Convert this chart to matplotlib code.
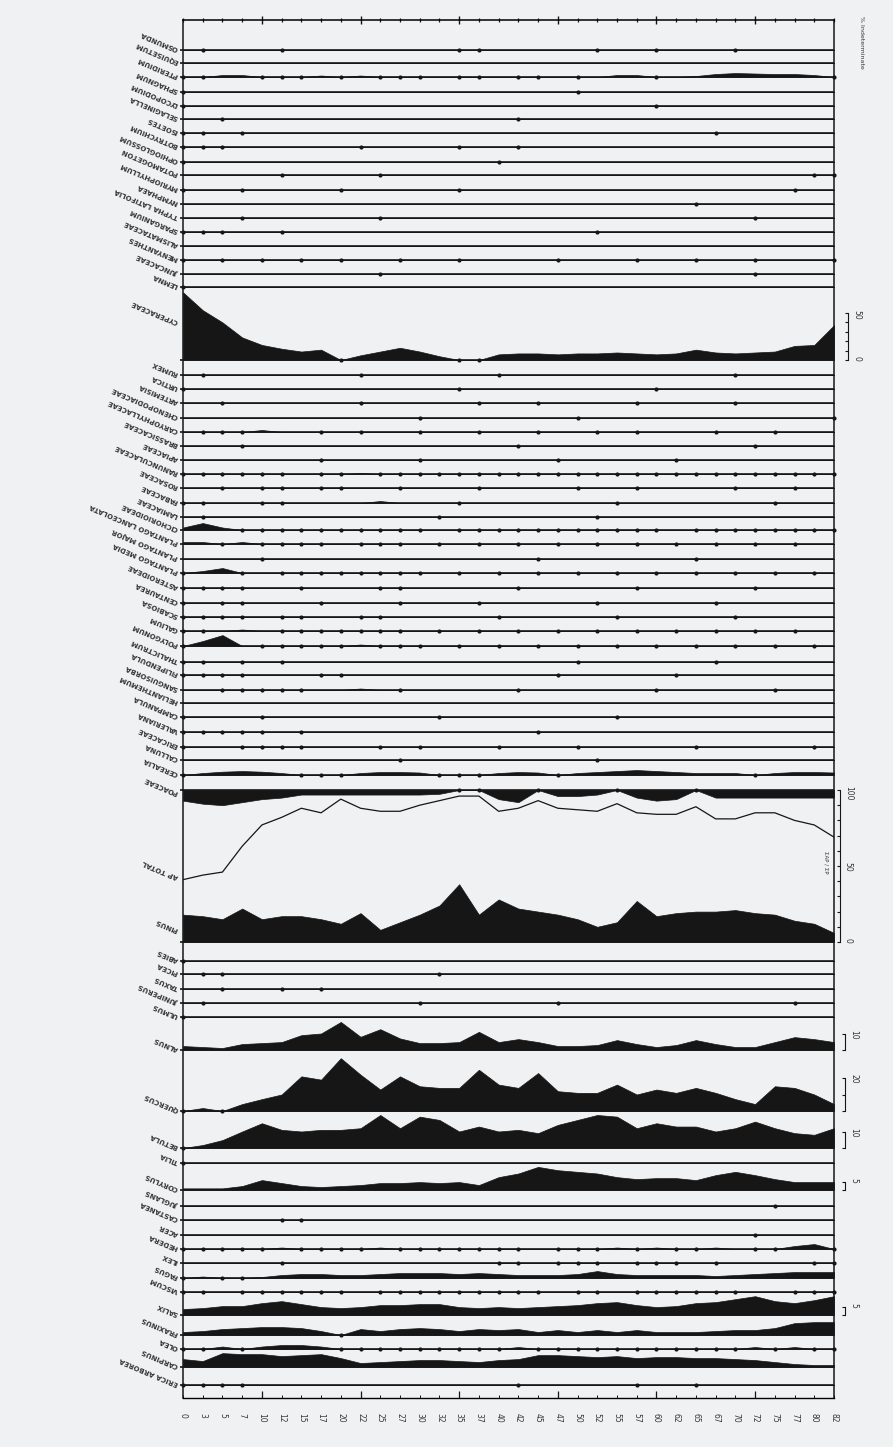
import numpy as np
import matplotlib
matplotlib.use('Agg')
import matplotlib.pyplot as plt

# ========== data ==========
depth_labels = ['0', '3', '5', '7', '10', '12', '15', '17', '20', '22', '25', '27', '30', '32',
                '35', '37', '40', '42', '45', '47', '50', '52', '55', '57', '60', '62', '65', '67',
                '70', '72', '75', '77', '80', '82']

# upper block: spores and aquatics (presence dots, a few small curves)
top_taxa = ['OSMUNDA', 'EQUISETUM', 'PTERIDIUM', 'SPHAGNUM', 'LYCOPODIUM', 'SELAGINELLA',
            'ISOETES', 'BOTRYCHIUM', 'OPHIOGLOSSUM', 'POTAMOGETON', 'MYRIOPHYLLUM', 'NYMPHAEA',
            'TYPHA LATIFOLIA', 'SPARGANIUM', 'ALISMATACEAE', 'MENYANTHES', 'JUNCACEAE', 'LEMNA']
top_dots = [[1, 5, 14, 15, 21, 24, 28], [],
            [0, 1, 4, 5, 6, 8, 10, 11, 12, 14, 15, 17, 18, 20, 24, 33],
            [0, 20], [0, 24], [2, 17], [0, 1, 3, 27], [0, 1, 2, 9, 14, 17], [0, 16],
            [5, 10, 32, 33], [0, 3, 8, 14, 31], [26], [3, 10, 29], [0, 1, 2, 5, 21], [],
            [0, 2, 4, 6, 8, 11, 14, 19, 23, 26, 29, 33], [10, 29], [0]]
top_bumps = [[], [],
             [(2, 1.2), (3, 1.2), (7, 0.9), (9, 0.9), (22, 1.2), (23, 1.2), (26, 0.6), (27, 1.8),
              (28, 2.4), (29, 2.1), (30, 1.8), (31, 1.8), (32, 1.2)],
             [], [], [], [], [], [], [], [], [], [], [], [], [], [], []]

cyperaceae = [72, 53, 40, 24, 16, 12, 9, 11, 0, 5, 9, 13, 9, 4, 0, 0, 6, 7, 7, 6, 7, 7, 8, 7, 6, 7,
              11, 8, 7, 8, 9, 15, 16, 37]

# middle block: herbs
mid_taxa = ['RUMEX', 'URTICA', 'ARTEMISIA', 'CHENOPODIACEAE', 'CARYOPHYLLACEAE', 'BRASSICACEAE',
            'APIACEAE', 'RANUNCULACEAE', 'ROSACEAE', 'FABACEAE', 'LAMIACEAE', 'CICHORIOIDEAE',
            'PLANTAGO LANCEOLATA', 'PLANTAGO MAJOR', 'PLANTAGO MEDIA', 'ASTEROIDEAE', 'CENTAUREA',
            'SCABIOSA', 'GALIUM', 'POLYGONUM', 'THALICTRUM', 'FILIPENDULA', 'SANGUISORBA',
            'HELIANTHEMUM', 'CAMPANULA', 'VALERIANA', 'ERICACEAE', 'CALLUNA', 'CEREALIA']
mid_dots = [[1, 9, 16, 28], [0, 14, 24], [2, 9, 15, 18, 23, 28], [12, 20, 33],
            [1, 2, 3, 7, 9, 12, 15, 18, 21, 23, 27, 30], [3, 17, 29], [7, 12, 19, 25],
            [0, 1, 2, 3, 4, 5, 7, 8, 10, 11, 12, 13, 14, 15, 16, 17, 18, 19, 20, 21, 22, 23, 24,
             25, 26, 27, 28, 29, 30, 31, 32, 33],
            [2, 4, 5, 7, 8, 11, 15, 20, 23, 28, 31], [0, 1, 4, 5, 14, 22, 30], [1, 13, 21],
            [3, 4, 5, 6, 7, 8, 9, 10, 11, 12, 14, 15, 16, 17, 18, 19, 20, 21, 22, 23, 24, 26, 27,
             28, 29, 30, 31, 32, 33],
            [2, 4, 5, 6, 7, 9, 10, 11, 13, 15, 17, 19, 21, 23, 25, 27, 29, 31], [4, 18, 26],
            [0, 3, 5, 6, 7, 8, 9, 10, 11, 12, 14, 16, 18, 20, 22, 24, 26, 28, 30, 32],
            [0, 1, 2, 3, 6, 10, 11, 17, 23, 29], [0, 2, 3, 7, 11, 15, 21, 27],
            [0, 1, 2, 3, 5, 6, 9, 10, 16, 22, 28],
            [0, 1, 5, 6, 7, 8, 9, 10, 11, 13, 15, 17, 19, 21, 23, 25, 27, 29, 31],
            [0, 4, 5, 6, 7, 8, 10, 11, 12, 14, 16, 18, 20, 22, 24, 26, 28, 30, 32],
            [0, 1, 3, 5, 20, 27], [0, 1, 2, 3, 7, 8, 19, 25], [2, 3, 4, 5, 6, 11, 17, 24, 30], [],
            [0, 4, 13, 22], [0, 1, 2, 3, 4, 6, 18], [0, 3, 4, 5, 6, 10, 12, 16, 20, 26, 32],
            [11, 21], [0, 6, 7, 8, 13, 14, 15, 19, 29]]
mid_bumps = [[], [], [], [], [(4, 1.2)], [], [], [(9, 0.6)], [], [(10, 1.2)], [],
             [(0, 1.5), (1, 4.2), (2, 1.5)], [(0, 1.2), (1, 1.2), (3, 1.2)], [],
             [(1, 1.2), (2, 3.0)], [], [], [], [(3, 0.9)], [(1, 3.0), (2, 6.6), (9, 0.9)],
             [], [], [(9, 0.9)], [], [], [], [], [],
             [(1, 1.2), (2, 2.0), (3, 2.4), (4, 2.0), (5, 1.2), (9, 1.2), (10, 1.8), (11, 1.8),
              (12, 1.5), (16, 1.2), (17, 1.8), (18, 1.5), (20, 1.2), (21, 1.8), (22, 2.4),
              (23, 3.0), (24, 2.4), (25, 1.8), (26, 1.2), (27, 1.2), (28, 1.2), (30, 1.2),
              (31, 1.8), (32, 1.8), (33, 1.5)]]

# sum panel (0-100 %)
poaceae = [7, 9, 10, 8, 6, 5, 3, 3, 3, 3, 3, 3, 3, 2.5, 0, 0, 6, 8, 0, 4, 4, 3, 0, 5, 7, 6, 0, 5,
           5, 5, 5, 5, 5, 5]
ap_total = [41, 44, 46, 63, 77, 82, 88, 85, 94, 88, 86, 86, 90, 93, 96, 96, 86, 88, 93, 88, 87, 86,
            91, 85, 84, 84, 89, 81, 81, 85, 85, 80, 77, 69]
pinus = [18, 17, 15, 22, 15, 17, 17, 15, 12, 19, 8, 13, 18, 24, 38, 18, 28, 22, 20, 18, 15, 10, 13,
         27, 17, 19, 20, 20, 21, 19, 18, 14, 12, 6]

# lower block: trees and shrubs
alnus = [2.4, 1.8, 1.2, 3.6, 4.2, 4.8, 9, 10, 17, 8, 12.6, 7, 4.2, 4.2, 4.8, 11, 4.8, 6.6, 4.8, 2.4,
         2.4, 3, 6, 3.6, 1.8, 3, 6, 3.6, 1.8, 1.8, 4.8, 7.8, 6.6, 4.8]
quercus = [0, 1.8, 0, 4.2, 7.2, 10, 21, 19, 32, 22, 13, 21, 15, 14, 14, 25, 16, 14, 23, 12, 11, 11,
           16, 10, 13, 11, 14, 11, 7.2, 4.2, 15, 14, 10, 4.2]
betula = [0, 1.8, 4.8, 10, 15, 11, 10, 11, 11, 12, 20, 12, 19, 17, 10, 13, 10, 11, 9, 14, 17, 20, 19,
          12, 15, 13, 13, 10, 12, 16, 12, 9, 8, 12]
corylus = [1, 1, 1, 2.4, 6, 4.2, 2.4, 1.8, 2.4, 3, 4.2, 4.2, 4.8, 4.2, 4.8, 3, 7.8, 10, 14, 12, 11,
           10, 7.8, 6.6, 7.2, 7.2, 6, 9, 11, 9, 6.6, 4.8, 4.8, 4.8]
fagus = [0, 0.9, 0, 0, 0.6, 1.8, 2.4, 2.4, 1.8, 1.8, 2.4, 3, 3, 3, 2.4, 3, 2.4, 1.8, 1.8, 1.8, 2.4,
         4.2, 2.4, 1.8, 1.8, 1.8, 1.8, 1.2, 1.8, 2.4, 3, 3.6, 3.6, 3.6]
salix = [3.6, 4.2, 5.4, 5.4, 7.2, 8.4, 6.6, 4.8, 4.2, 4.8, 6, 6, 6.6, 6.6, 4.8, 4.2, 4.8, 4.2, 4.8,
         5.4, 6, 7.2, 7.8, 6, 4.8, 5.4, 7.2, 7.8, 9.6, 11.4, 8.4, 7.2, 9, 11.4]
fraxinus = [1.8, 2.4, 3.6, 4.2, 4.8, 4.8, 4.2, 2.4, 0, 3.6, 2.4, 3.6, 4.2, 3.6, 2.4, 3.6, 3, 3.6, 1.8,
            3, 1.8, 3, 1.8, 3, 1.8, 1.8, 1.8, 2.4, 3, 3, 4.2, 7.2, 7.8, 7.8]
carpinus = [4.8, 3.6, 8.4, 7.8, 7.8, 6.6, 7.2, 7.8, 5.4, 2.4, 3, 3.6, 4.2, 4.2, 3.6, 3, 4.2, 4.8, 7.2,
            7.2, 6.6, 6, 6.6, 5.4, 6, 6, 5.4, 5.4, 4.8, 4.2, 3, 1.8, 1.2, 1.2]

low_taxa = ['ABIES', 'PICEA', 'TAXUS', 'JUNIPERUS', 'ULMUS', 'ALNUS', 'QUERCUS', 'BETULA', 'TILIA',
            'CORYLUS', 'JUGLANS', 'CASTANEA', 'ACER', 'HEDERA', 'ILEX', 'FAGUS', 'VISCUM', 'SALIX',
            'FRAXINUS', 'OLEA', 'CARPINUS', 'ERICA ARBOREA']
low_curves = [None, None, None, None, None, alnus, quercus, betula, None, corylus, None, None, None,
              None, None, fagus, None, salix, fraxinus, None, carpinus, None]
low_dots = [[0], [1, 2, 13], [2, 5, 7], [1, 12, 19, 31], [0], [], [0, 2], [0], [0], [], [30], [5, 6],
            [29],
            [0, 1, 2, 3, 4, 6, 7, 8, 9, 11, 12, 13, 14, 15, 16, 17, 19, 20, 21, 23, 25, 26, 29, 30,
             33],
            [5, 16, 17, 19, 20, 21, 23, 24, 25, 27, 32, 33], [0, 2, 3],
            [0, 1, 3, 4, 5, 6, 7, 8, 10, 11, 12, 13, 14, 15, 16, 17, 18, 20, 21, 23, 24, 25, 26, 27,
             28, 31, 32, 33],
            [], [8],
            [0, 1, 3, 8, 9, 10, 11, 12, 13, 14, 15, 16, 18, 19, 20, 21, 22, 23, 24, 25, 26, 27, 28,
             30, 32, 33],
            [], [0, 1, 2, 3, 17, 23, 26]]
low_bumps = [[], [], [], [], [], [], [], [], [], [], [], [], [],
             [(5, 0.9), (10, 0.9), (22, 0.9), (24, 0.9), (27, 0.9), (31, 1.8), (32, 3.0)],
             [], [], [], [], [],
             [(2, 1.5), (4, 1.5), (5, 2.4), (6, 2.4), (7, 1.5), (17, 1.2), (29, 1.2), (31, 1.2)],
             [], []]

# ========== layout (pixel rows of the scan) ==========
W, H = 893, 1447
X0, X1 = 183, 834
PX_PCT = 1.65
INK = '#161616'
TXT = '#363636'
PAPER = '#eff1f2'
top_rows = [50, 63, 77, 92, 106, 119, 133, 147, 162, 175, 190, 204, 218, 232, 246, 260, 274, 287]
mid_rows = [375, 389, 403, 418, 432, 446, 460, 474, 488, 503, 517, 530, 544, 559, 573, 588, 603,
            617, 631, 646, 662, 675, 690, 703, 717, 732, 747, 760, 775]
low_rows = [961, 974, 989, 1003, 1017, 1050, 1111, 1148, 1163, 1190, 1206, 1220, 1235, 1249, 1263,
            1278, 1292, 1315, 1335, 1349, 1367, 1385]
low_scales = {5: [0, 10], 6: [0, 10, 20], 7: [0, 10], 9: [0, 5], 17: [0, 5]}

n = len(depth_labels)
x = np.arange(n)

fig = plt.figure(figsize=(W / 100, H / 100), dpi=100)
fig.patch.set_facecolor(PAPER)
plt.rcParams['font.family'] = ['DejaVu Sans']


# ========== helpers ==========
def row_axes(top, bottom, ymax=None):
    ax = fig.add_axes([X0 / W, 1 - bottom / H, (X1 - X0) / W, (bottom - top) / H])
    ax.set_xlim(0, n - 1)
    ax.set_ylim(0, ymax if ymax else (bottom - top) / PX_PCT)
    ax.patch.set_visible(False)
    for s in ax.spines.values():
        s.set_visible(False)
    ax.set_xticks([])
    ax.set_yticks([])
    return ax


def base_line(ax, y=0):
    ax.plot([-0.15, n - 1], [y, y], color=INK, lw=1.2, clip_on=False, solid_capstyle='butt')


def dots(ax, idx, y=0):
    if idx:
        ax.plot(idx, [y] * len(idx), 'o', ms=3.0, color=INK, mew=0, clip_on=False)


def from_bumps(bumps):
    v = np.zeros(n)
    for i, p in bumps:
        v[i] = p
    return v


def label(y, name):
    fig.text(178 / W, 1 - y / H, name, rotation=157, rotation_mode='anchor', ha='left',
             va='center', fontsize=5, fontweight='bold', color=TXT)


def right_scale(ax, ticks, labels, offset):
    sp = ax.spines['right']
    sp.set_visible(True)
    sp.set_position(('outward', offset))
    sp.set_bounds(ticks[0], ticks[-1])
    sp.set_linewidth(0.8)
    sp.set_color(INK)
    ax.yaxis.set_ticks_position('right')
    ax.set_yticks(ticks)
    ax.set_yticklabels(labels)
    ax.tick_params(axis='y', direction='in', length=2.5, width=0.8, pad=3, labelsize=5.5,
                   labelrotation=270, colors=INK, labelcolor=TXT)


def draw_row(top, bottom, values, d, name):
    ax = row_axes(top, bottom)
    ax.fill_between(x, 0, values, facecolor=INK, edgecolor=INK, lw=0.5)
    base_line(ax)
    dots(ax, d)
    label(bottom - 1, name)
    return ax


# ========== frame ==========
axf = fig.add_axes([X0 / W, 1 - 1398 / H, (X1 - X0) / W, (1398 - 20) / H])
axf.patch.set_visible(False)
axf.set_xticks([])
axf.set_yticks([])
for k in ['top', 'bottom']:
    axf.spines[k].set_visible(False)
for k in ['left', 'right']:
    axf.spines[k].set_linewidth(1.1)
    axf.spines[k].set_color(INK)

# top tick line
axt = fig.add_axes([X0 / W, 1 - 21 / H, (X1 - X0) / W, 1 / H])
axt.patch.set_visible(False)
axt.set_xlim(0, n - 1)
for k in ['bottom', 'left', 'right']:
    axt.spines[k].set_visible(False)
axt.spines['top'].set_linewidth(1.1)
axt.xaxis.tick_top()
axt.set_yticks([])
axt.set_xticks(x[4::5])
axt.set_xticklabels([])
axt.set_xticks(x, minor=True)
axt.tick_params(axis='x', which='major', direction='inout', length=6, width=1.0, colors=INK)
axt.tick_params(axis='x', which='minor', direction='inout', length=3, width=0.9, colors=INK)
fig.text(862 / W, 1 - 42 / H, '% Indeterminate', rotation=270, fontsize=4.5, color=TXT,
         ha='center', va='center')

# ========== upper block ==========
prev = 20
for yb, name, d, b in zip(top_rows, top_taxa, top_dots, top_bumps):
    draw_row(prev, yb, from_bumps(b), d, name)
    prev = yb

ax = row_axes(287, 360, ymax=73 / 0.94)
ax.fill_between(x, 0, cyperaceae, facecolor=INK, edgecolor=INK, lw=0.5)
base_line(ax)
dots(ax, [i for i in x if cyperaceae[i] == 0])
right_scale(ax, [0, 10, 20, 30, 40, 50], ['0', '', '', '', '', '50'], 10)
label(322, 'CYPERACEAE')

# ========== middle block ==========
prev = 360
for yb, name, d, b in zip(mid_rows, mid_taxa, mid_dots, mid_bumps):
    draw_row(prev, yb, from_bumps(b), d, name)
    prev = yb

# ========== sum panel ==========
ax = row_axes(790, 942, ymax=100)
ax.fill_between(x, 0, pinus, facecolor=INK, edgecolor=INK, lw=0.5)
ax.fill_between(x, 100 - np.array(poaceae), 100, facecolor=INK, edgecolor=INK, lw=0.5)
ax.plot(x, ap_total, color=INK, lw=0.9)
base_line(ax, 0)
base_line(ax, 100)
dots(ax, [i for i in x if poaceae[i] == 0], 100)
right_scale(ax, list(range(0, 101, 10)), ['0', '', '', '', '', '50', '', '', '', '', '100'], 4)
fig.text(826 / W, 1 - 862 / H, 'ΣAP / ΣP', rotation=270, fontsize=4, color=TXT,
         ha='center', va='center')
label(793, 'POACEAE')
label(877, 'AP TOTAL')
label(930, 'PINUS')

# ========== lower block ==========
prev = 942
for k, (yb, name, d) in enumerate(zip(low_rows, low_taxa, low_dots)):
    vals = low_curves[k] if low_curves[k] is not None else from_bumps(low_bumps[k])
    ax = draw_row(prev, yb, vals, d, name)
    if k in low_scales:
        tk = low_scales[k]
        right_scale(ax, tk, [''] * (len(tk) - 1) + [str(tk[-1])], 8)
    prev = yb

# ========== depth axis ==========
axb = fig.add_axes([X0 / W, 1 - 1398 / H, (X1 - X0) / W, 1 / H])
axb.patch.set_visible(False)
axb.set_xlim(0, n - 1)
for k in ['top', 'left', 'right']:
    axb.spines[k].set_visible(False)
axb.spines['bottom'].set_linewidth(1.0)
axb.set_yticks([])
axb.set_xticks(x)
axb.set_xticklabels(depth_labels, rotation=270, fontsize=5.5, color=TXT)
axb.set_xticks(x[4::5], minor=True)
axb.xaxis.remove_overlapping_locs = False
axb.tick_params(axis='x', which='major', direction='in', length=2.5, width=0.7, pad=11, colors=INK,
                labelcolor=TXT)
axb.tick_params(axis='x', which='minor', direction='in', length=5, width=0.9, colors=INK)

fig.savefig('out.png', dpi=100, facecolor=PAPER)
